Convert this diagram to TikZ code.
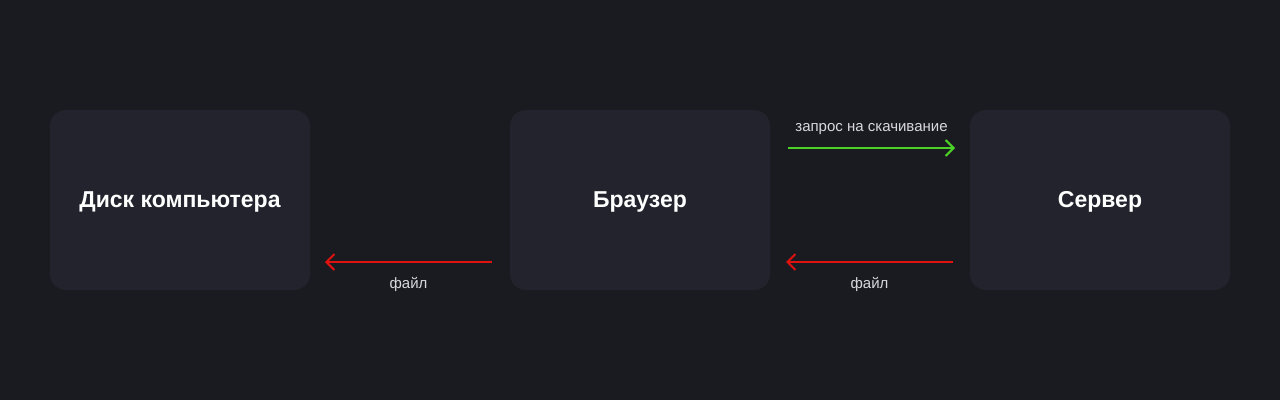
\documentclass[tikz,border=0pt]{standalone}
\usepackage{fontspec}
\setmainfont{Liberation Sans}
\usetikzlibrary{arrows.meta}
\definecolor{bg}{HTML}{1A1A21}
\definecolor{boxc}{HTML}{23232D}
\definecolor{grn}{HTML}{4CD227}
\definecolor{rd}{HTML}{E0120F}
\definecolor{lbl}{HTML}{D8D8DC}
\tikzset{
  box/.style={fill=boxc, rounded corners=16pt, minimum width=260pt, minimum height=180pt, inner sep=0pt,
    text=white, font=\fontsize{23}{27}\selectfont\bfseries},
  boxtext/.style={text=white, font=\fontsize{23}{27}\selectfont\bfseries, inner sep=0pt},
  conn/.style={line width=2pt, -{Straight Barb[length=8pt,width=16pt,line width=2pt]}},
  lab/.style={text=lbl, font=\fontsize{15}{18}\selectfont, inner sep=0pt},
}
\begin{document}
\begin{tikzpicture}[x=1pt,y=-1pt]
\fill[bg] (0,0) rectangle (1280,400);
\useasboundingbox (0,0) rectangle (1280,400);
\node[box] (disk) at (180,200) {};
\node[box] (browser) at (640,200) {};
\node[box] (server) at (1100,200) {};
\node[boxtext] (diskt) at (180,202) {Диск компьютера};
\node[boxtext] (browsert) at (640,202) {Браузер};
\node[boxtext] (servert) at (1100,202) {Сервер};
\coordinate (g1) at (788,148);
\coordinate (g2) at (955,148);
\coordinate (r1) at (953,262);
\coordinate (r2) at (786,262);
\coordinate (r3) at (492,262);
\coordinate (r4) at (325,262);
\draw[conn, grn] (g1) -- (g2) node[lab, midway, above=12pt] (lq) {запрос на скачивание};
\draw[conn, rd] (r1) -- (r2) node[lab, midway, below=14pt] (lf1) {файл};
\draw[conn, rd] (r3) -- (r4) node[lab, midway, below=14pt] (lf2) {файл};
\end{tikzpicture}
\end{document}
